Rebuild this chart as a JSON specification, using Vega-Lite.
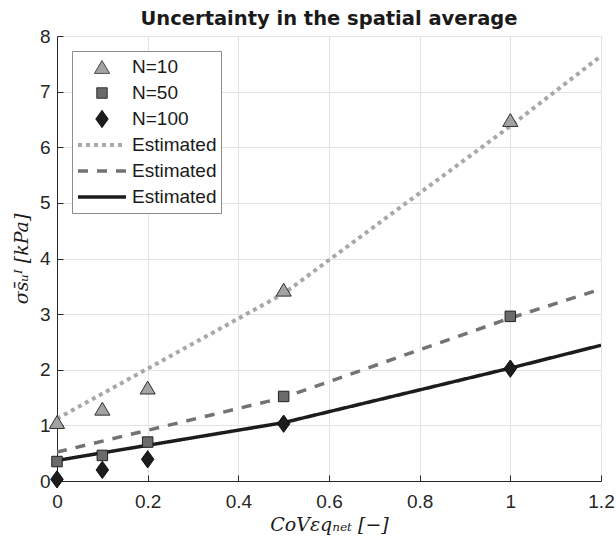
{
  "$schema": "https://vega.github.io/schema/vega-lite/v6.json",
  "width": 544,
  "height": 445,
  "autosize": {"type": "none"},
  "padding": {"left": 57, "top": 36, "right": 15, "bottom": 66},
  "background": "white",
  "title": {
    "text": "Uncertainty in the spatial average",
    "font": "DejaVu Sans",
    "fontSize": 19.5,
    "fontWeight": "bold",
    "color": "#1a1a1a",
    "anchor": "middle",
    "offset": -2
  },
  "config": {
    "view": {"stroke": null},
    "axis": {
      "labelFont": "Liberation Sans",
      "labelFontSize": 19,
      "labelColor": "#262626",
      "gridColor": "#e3e3e3",
      "gridWidth": 1,
      "domainColor": "#262626",
      "domainWidth": 1,
      "tickColor": "#262626",
      "tickSize": -6,
      "labelFlush": false,
      "labelOverlap": false,
      "titleFont": "DejaVu Serif",
      "titleFontStyle": "italic",
      "titleFontWeight": "normal",
      "titleFontSize": 19,
      "titleColor": "#1a1a1a"
    },
    "legend": {
      "orient": "top-left",
      "offset": 15,
      "padding": 4,
      "strokeColor": "#8c8c8c",
      "fillColor": "white",
      "cornerRadius": 0,
      "labelFont": "Liberation Sans",
      "labelFontSize": 19,
      "labelColor": "#1a1a1a",
      "labelOffset": 4,
      "symbolOpacity": 1,
      "clipHeight": 24,
      "rowPadding": 2
    }
  },
  "data": {
    "values": [
      {"x": 0, "y": 1.06, "series": "N=10", "kind": "pt"},
      {"x": 0.1, "y": 1.3, "series": "N=10", "kind": "pt"},
      {"x": 0.2, "y": 1.68, "series": "N=10", "kind": "pt"},
      {"x": 0.5, "y": 3.44, "series": "N=10", "kind": "pt"},
      {"x": 1, "y": 6.49, "series": "N=10", "kind": "pt"},
      {"x": 0, "y": 0.35, "series": "N=50", "kind": "pt"},
      {"x": 0.1, "y": 0.46, "series": "N=50", "kind": "pt"},
      {"x": 0.2, "y": 0.7, "series": "N=50", "kind": "pt"},
      {"x": 0.5, "y": 1.52, "series": "N=50", "kind": "pt"},
      {"x": 1, "y": 2.96, "series": "N=50", "kind": "pt"},
      {"x": 0, "y": 0.03, "series": "N=100", "kind": "pt"},
      {"x": 0.1, "y": 0.2, "series": "N=100", "kind": "pt"},
      {"x": 0.2, "y": 0.39, "series": "N=100", "kind": "pt"},
      {"x": 0.5, "y": 1.03, "series": "N=100", "kind": "pt"},
      {"x": 1, "y": 2.02, "series": "N=100", "kind": "pt"},
      {"x": 0, "y": 1.12, "series": "Est10", "kind": "ln"},
      {"x": 0.5, "y": 3.37, "series": "Est10", "kind": "ln"},
      {"x": 1, "y": 6.38, "series": "Est10", "kind": "ln"},
      {"x": 1.2, "y": 7.64, "series": "Est10", "kind": "ln"},
      {"x": 0, "y": 0.52, "series": "Est50", "kind": "ln"},
      {"x": 0.5, "y": 1.5, "series": "Est50", "kind": "ln"},
      {"x": 1, "y": 2.93, "series": "Est50", "kind": "ln"},
      {"x": 1.2, "y": 3.45, "series": "Est50", "kind": "ln"},
      {"x": 0, "y": 0.37, "series": "Est100", "kind": "ln"},
      {"x": 0.5, "y": 1.05, "series": "Est100", "kind": "ln"},
      {"x": 1, "y": 2.03, "series": "Est100", "kind": "ln"},
      {"x": 1.2, "y": 2.44, "series": "Est100", "kind": "ln"}
    ]
  },
  "encoding": {
    "x": {
      "field": "x",
      "type": "quantitative",
      "scale": {"domain": [0, 1.2], "nice": false, "zero": false},
      "axis": {
        "values": [0, 0.2, 0.4, 0.6, 0.8, 1, 1.2],
        "labelExpr": "'' + datum.value",
        "grid": true,
        "labelPadding": 17,
        "title": "CoVεqₙₑₜ [−]",
        "titlePadding": 4
      }
    },
    "y": {
      "field": "y",
      "type": "quantitative",
      "scale": {"domain": [0, 8], "nice": false},
      "axis": {
        "values": [0, 1, 2, 3, 4, 5, 6, 7, 8],
        "format": "d",
        "grid": true,
        "labelPadding": 13,
        "title": "σs̄ᵤᴵ [kPa]",
        "titlePadding": 8
      }
    }
  },
  "layer": [
    {
      "transform": [{"filter": "datum.kind == 'ln'"}],
      "mark": {"type": "line", "strokeCap": "butt", "clip": true},
      "encoding": {
        "stroke": {
          "field": "series",
          "type": "nominal",
          "title": null,
          "scale": {
            "type": "ordinal",
            "domain": ["N=10", "N=50", "N=100", "Est10", "Est50", "Est100"],
            "range": ["#303030", "#202020", "#101010", "#a8a8a8", "#737373", "#1c1c1c"]
          },
          "legend": {"title": null, "labelExpr": "indexof(datum.label, 'Est') == 0 ? 'Estimated' : datum.label"}
        },
        "strokeDash": {
          "field": "series",
          "type": "nominal",
          "title": null,
          "scale": {
            "type": "ordinal",
            "domain": ["N=10", "N=50", "N=100", "Est10", "Est50", "Est100"],
            "range": [[1, 0], [1, 0], [1, 0], [4, 4], [10, 9], [1, 0]]
          },
          "legend": {"title": null, "labelExpr": "indexof(datum.label, 'Est') == 0 ? 'Estimated' : datum.label"}
        },
        "strokeWidth": {
          "field": "series",
          "type": "nominal",
          "title": null,
          "scale": {
            "type": "ordinal",
            "domain": ["N=10", "N=50", "N=100", "Est10", "Est50", "Est100"],
            "range": [1, 1, 1, 4, 3.5, 3.5]
          },
          "legend": {"title": null, "labelExpr": "indexof(datum.label, 'Est') == 0 ? 'Estimated' : datum.label"}
        }
      }
    },
    {
      "transform": [{"filter": "datum.kind == 'pt'"}],
      "mark": {"type": "point", "filled": true, "opacity": 1},
      "encoding": {
        "shape": {
          "field": "series",
          "type": "nominal",
          "title": null,
          "scale": {
            "type": "ordinal",
            "domain": ["N=10", "N=50", "N=100", "Est10", "Est50", "Est100"],
            "range": ["M0,-0.85L1,0.85L-1,0.85Z", "square", "M0,-1L0.72,0L0,1L-0.72,0Z", "stroke", "stroke", "stroke"]
          },
          "legend": {"title": null, "labelExpr": "indexof(datum.label, 'Est') == 0 ? 'Estimated' : datum.label"}
        },
        "fill": {
          "field": "series",
          "type": "nominal",
          "title": null,
          "scale": {
            "type": "ordinal",
            "domain": ["N=10", "N=50", "N=100", "Est10", "Est50", "Est100"],
            "range": ["#a3a3a3", "#6b6b6b", "#1c1c1c", "transparent", "transparent", "transparent"]
          },
          "legend": {"title": null, "labelExpr": "indexof(datum.label, 'Est') == 0 ? 'Estimated' : datum.label"}
        },
        "stroke": {
          "field": "series",
          "type": "nominal",
          "title": null,
          "scale": {
            "type": "ordinal",
            "domain": ["N=10", "N=50", "N=100", "Est10", "Est50", "Est100"],
            "range": ["#303030", "#202020", "#101010", "#a8a8a8", "#737373", "#1c1c1c"]
          },
          "legend": {"title": null, "labelExpr": "indexof(datum.label, 'Est') == 0 ? 'Estimated' : datum.label"}
        },
        "strokeWidth": {
          "field": "series",
          "type": "nominal",
          "title": null,
          "scale": {
            "type": "ordinal",
            "domain": ["N=10", "N=50", "N=100", "Est10", "Est50", "Est100"],
            "range": [1, 1, 1, 4, 3.5, 3.5]
          },
          "legend": {"title": null, "labelExpr": "indexof(datum.label, 'Est') == 0 ? 'Estimated' : datum.label"}
        },
        "size": {
          "field": "series",
          "type": "nominal",
          "title": null,
          "scale": {
            "type": "ordinal",
            "domain": ["N=10", "N=50", "N=100", "Est10", "Est50", "Est100"],
            "range": [230, 110, 300, 2304, 2304, 2304]
          },
          "legend": {"title": null, "labelExpr": "indexof(datum.label, 'Est') == 0 ? 'Estimated' : datum.label"}
        }
      }
    }
  ]
}
